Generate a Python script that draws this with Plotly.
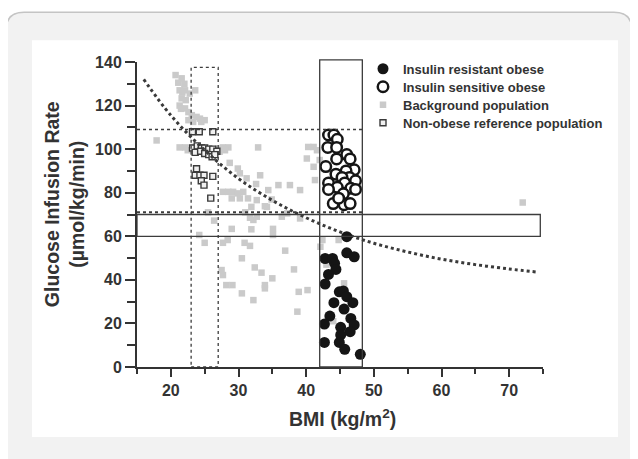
import plotly.graph_objects as go

# ---------------- data ----------------
resistant_bmi = [46.0, 46.0, 47.1, 42.8, 43.9, 44.2, 44.4, 43.3, 42.8, 44.9, 45.5, 46.0, 46.9,
                 44.1, 45.6, 43.5, 46.6, 42.7, 47.1, 45.1, 46.5, 45.1, 42.7, 44.9, 45.7, 48.0]
resistant_gir = [59.8, 52.4, 50.6, 49.8, 49.8, 47.6, 44.8, 42.5, 38.1, 34.5, 34.9, 32.3, 29.5,
                 29.5, 26.6, 23.4, 22.3, 19.7, 19.3, 18.2, 16.2, 14.7, 11.3, 11.3, 8.1, 5.8]

sensitive_bmi = [43.3, 44.1, 44.6, 43.2, 44.5, 46.0, 44.5, 46.5, 42.9, 47.1, 45.9, 44.4, 46.4,
                 45.3, 47.3, 43.3, 45.7, 44.6, 46.6, 43.3, 47.3, 45.5, 44.0, 45.6, 46.5, 44.8]
sensitive_gir = [106.5, 106.5, 104.5, 100.8, 100.8, 97.5, 95.5, 95.5, 92.0, 90.5, 90.0, 88.5, 87.0,
                 87.0, 85.5, 84.5, 84.5, 82.5, 82.0, 81.5, 81.5, 79.5, 75.0, 74.5, 75.0, 77.5]

background_bmi = [20.7, 21.6, 21.1, 22.0, 21.3, 22.1, 22.8, 23.6, 21.7, 21.6, 22.2, 21.3, 22.1,
                  22.6, 23.1, 23.8, 24.3, 25.0, 23.3, 22.6, 24.5, 21.5,
                  17.9, 21.3, 22.1, 22.5, 23.5, 24.8, 26.5,
                  27.0, 27.7, 28.5, 27.2, 28.0, 32.9, 28.7, 29.9, 30.2, 31.2, 32.6, 33.2, 34.4,
                  35.9, 37.6, 39.1, 27.7, 28.5, 29.2, 29.9, 30.7, 29.0, 30.2, 31.4, 32.7, 31.9,
                  34.2, 33.9, 34.9,
                  26.4, 29.0, 31.7, 32.2, 32.7, 31.9, 35.1, 35.1, 36.4, 39.1, 24.2, 25.0, 27.7,
                  30.9, 31.7, 36.9, 25.5, 31.0, 37.2, 28.4,
                  30.5, 27.5, 27.7, 32.4, 33.4, 35.0, 38.2, 28.2, 29.1, 33.9, 33.9, 30.5, 38.9,
                  40.2, 32.2, 38.7,
                  40.3, 41.1, 40.1, 41.1, 41.3, 41.6, 42.0, 42.4, 42.1, 44.8, 43.0, 45.6, 44.0,
                  72.0]
background_gir = [134.0, 132.5, 130.5, 130.0, 127.0, 127.0, 125.5, 127.0, 126.0, 123.3, 122.5, 120.0, 118.7,
                  117.0, 115.6, 114.8, 114.0, 113.3, 112.5, 113.3, 112.5, 118.5,
                  104.0, 100.8, 100.8, 99.5, 101.0, 100.0, 98.0,
                  100.3, 100.8, 100.8, 98.8, 99.5, 100.8, 93.7, 91.1, 88.9, 86.6, 84.0, 88.0, 81.2,
                  83.5, 83.5, 81.2, 80.4, 80.4, 80.4, 79.7, 80.4, 77.4, 77.4, 77.4, 76.6, 73.5,
                  73.5, 73.8, 76.9,
                  67.2, 63.4, 68.5, 67.5, 69.0, 63.2, 63.4, 60.6, 69.0, 68.2, 60.6, 57.0, 57.0,
                  57.0, 55.6, 53.4, 71.0, 71.0, 70.5, 58.3,
                  49.9, 44.5, 42.2, 45.7, 43.3, 40.7, 44.8, 37.6, 37.6, 37.6, 36.1, 33.8, 34.5,
                  35.3, 30.7, 25.4,
                  101.0, 101.0, 95.7, 91.9, 85.8, 99.5, 95.0, 58.3, 55.2, 58.3, 47.0, 38.4, 21.0,
                  75.5]

reference_bmi = [23.2, 24.2, 26.2, 23.2, 23.9, 24.5, 25.0, 25.6, 26.2, 26.8, 23.6, 24.4, 25.0,
                 25.6, 26.1, 26.5, 23.8, 23.6, 24.3, 24.9, 26.2, 24.5, 24.9, 25.9]
reference_gir = [108.0, 108.0, 108.0, 100.5, 101.5, 100.5, 100.5, 100.0, 100.0, 99.0, 98.5, 99.0, 98.0,
                 97.5, 96.5, 97.5, 91.0, 88.0, 88.0, 88.0, 87.5, 85.5, 83.5, 77.5]

# regression curve
curve_bmi = [16, 20, 25, 30, 35, 40, 45, 50, 55, 60, 65, 70, 74]
curve_gir = [132, 115.5, 99.5, 86.5, 76.5, 68.5, 62, 56.8, 52.8, 49.5, 47, 45, 43.6]

# threshold / reference ranges
ref_upper = 109
ref_lower = 71
band_low, band_high = 60, 70
nonobese_box = (23, 27, 137.5)
obese_box = (42, 48.3, 141)

x_ticks = [20, 30, 40, 50, 60, 70]
y_ticks = [0, 20, 40, 60, 80, 100, 120, 140]

legend_names = ["Insulin resistant obese", "Insulin sensitive obese",
                "Background population", "Non-obese reference population"]

# ---------------- layout helpers (reference pixel -> paper) ----------------
PAGE_W, PAGE_H = 638, 459
BODY = 8                      # default browser body margin around the figure
W, H = PAGE_W - BODY, PAGE_H - BODY
L, R, T, B = 137, 543, 61.7, 367   # plot area in page pixels
def px(xp):
    return (xp - L) / (R - L)
def py(yp):
    return (B - yp) / (B - T)

FONT = "Liberation Sans, Arial, Helvetica, sans-serif"
DARK = "#333333"

fig = go.Figure()

fig.add_trace(go.Scatter(
    x=background_bmi, y=background_gir, mode="markers", name=legend_names[2],
    marker=dict(symbol="square", size=6.5, color="#cacaca", line=dict(width=0)),
    legend="legend3"))
fig.add_trace(go.Scatter(
    x=reference_bmi, y=reference_gir, mode="markers", name=legend_names[3],
    marker=dict(symbol="square", size=6, color="#f0f0f0", line=dict(width=1.4, color="#3a3a3a")),
    legend="legend4"))
fig.add_trace(go.Scatter(
    x=curve_bmi, y=curve_gir, mode="lines", line=dict(shape="spline", dash="dot", width=3, color="#3a3a3a"),
    showlegend=False, hoverinfo="skip"))
fig.add_trace(go.Scatter(
    x=sensitive_bmi, y=sensitive_gir, mode="markers", name=legend_names[1],
    marker=dict(symbol="circle", size=10.5, color="white", line=dict(width=2.5, color="#151515")),
    legend="legend2"))
fig.add_trace(go.Scatter(
    x=resistant_bmi, y=resistant_gir, mode="markers", name=legend_names[0],
    marker=dict(symbol="circle", size=11, color="#151515", line=dict(width=0)),
    legend="legend"))

shapes = []
# card background
cx0, cx1, cy0, cy1, r = px(6), px(632), py(12), py(470), 18
rx, ry = r / (R - L), r / (B - T)
card_path = (f"M {cx0+rx},{cy0} L {cx1-rx},{cy0} Q {cx1},{cy0} {cx1},{cy0-ry} "
             f"L {cx1},{cy1+ry} Q {cx1},{cy1} {cx1-rx},{cy1} L {cx0+rx},{cy1} "
             f"Q {cx0},{cy1} {cx0},{cy1+ry} L {cx0},{cy0-ry} Q {cx0},{cy0} {cx0+rx},{cy0} Z")
shapes.append(dict(type="path", xref="paper", yref="paper", path=card_path,
                   fillcolor="#f2f2f2", line=dict(color="#c4c4c4", width=1.5), layer="below"))
shapes.append(dict(type="rect", xref="paper", yref="paper", x0=px(32), x1=px(618), y0=py(40), y1=py(437),
                   fillcolor="white", line=dict(width=0), layer="below"))

LC = "#3c3c3c"
# non-obese box (dotted)
shapes.append(dict(type="rect", xref="x", yref="y", x0=nonobese_box[0], x1=nonobese_box[1],
                   y0=0, y1=nonobese_box[2], line=dict(color=LC, width=1.3, dash="dot")))
# obese box (solid), top slightly above the axis range
shapes.append(dict(type="rect", xref="x", yref="paper", x0=obese_box[0], x1=obese_box[1],
                   y0=0, y1=obese_box[2] / 140, line=dict(color=LC, width=1.3)))
# reference range lines (dotted)
shapes.append(dict(type="line", xref="x", yref="y", x0=15, x1=obese_box[1], y0=ref_upper, y1=ref_upper,
                   line=dict(color=LC, width=1.5, dash="dot")))
shapes.append(dict(type="line", xref="x", yref="y", x0=15, x1=obese_box[1], y0=ref_lower, y1=ref_lower,
                   line=dict(color=LC, width=2, dash="dot")))
# threshold band
shapes.append(dict(type="rect", xref="x", yref="y", x0=15, x1=74.6, y0=band_low, y1=band_high,
                   line=dict(color=LC, width=1.3)))

annotations = [
    dict(text="<b>Glucose Infusion Rate<br>(µmol/kg/min)</b>", xref="paper", yref="paper",
         x=px(64), y=py(204), textangle=-90, showarrow=False,
         font=dict(family=FONT, size=19.5, color=DARK), xanchor="center", yanchor="middle"),
    dict(text="<b>BMI (kg/m<sup>2</sup>)</b>", xref="paper", yref="paper",
         x=px(342), y=py(418), showarrow=False,
         font=dict(family=FONT, size=19.5, color=DARK), xanchor="center", yanchor="middle"),
]

def legend_at(y_center):
    return dict(x=px(363), y=py(y_center), xanchor="left", yanchor="middle",
                font=dict(family=FONT, size=13, color=DARK, weight="bold"),
                bgcolor="rgba(0,0,0,0)", borderwidth=0, itemwidth=30)

fig.update_layout(
    width=W, height=H,
    margin=dict(l=L - BODY, r=PAGE_W - R, t=T - BODY, b=PAGE_H - B, pad=0),
    paper_bgcolor="white", plot_bgcolor="rgba(0,0,0,0)",
    shapes=shapes, annotations=annotations,
    showlegend=True,
    legend=legend_at(68.5), legend2=legend_at(86.5), legend3=legend_at(104.5), legend4=legend_at(122.5),
    font=dict(family=FONT, color=DARK),
)
fig.update_xaxes(range=[15, 75], showgrid=False, zeroline=False, showline=True, linecolor=DARK, linewidth=2,
                 tickvals=x_ticks, ticks="outside", ticklen=8, tickwidth=2, tickcolor=DARK,
                 tickfont=dict(family=FONT, size=16, color=DARK, weight="bold"),
                 minor=dict(dtick=5, tick0=15, ticks="outside", ticklen=5, tickwidth=2, tickcolor=DARK))
fig.update_yaxes(range=[0, 140], showgrid=False, zeroline=False, showline=True, linecolor=DARK, linewidth=2,
                 tickvals=y_ticks, ticks="outside", ticklen=10, tickwidth=2, tickcolor=DARK,
                 tickfont=dict(family=FONT, size=16, color=DARK, weight="bold"),
                 minor=dict(dtick=10, tick0=0, ticks="outside", ticklen=8, tickwidth=2, tickcolor=DARK))

fig.write_html("out.html")
